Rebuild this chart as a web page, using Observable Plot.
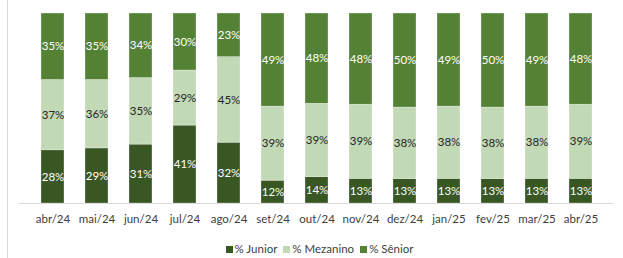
<!DOCTYPE html>
<html>
<head>
<meta charset="utf-8">
<script src="https://cdn.jsdelivr.net/npm/d3@7"></script>
<script src="https://cdn.jsdelivr.net/npm/@observablehq/plot@0.6"></script>
<style>
  html, body { margin: 0; padding: 0; background: #fff; }
  #wrap { position: relative; width: 623px; height: 258px; overflow: hidden; font-family: Lato, "Open Sans", sans-serif; }
  #edge { position: absolute; left: 7px; top: 0; width: 1px; height: 258px; background: #d9d9d9; }
  #legend { position: absolute; left: 0; top: 242px; width: 623px; text-align: center; font-size: 11.5px; color: #404040; padding-left: 16px; box-sizing: border-box; }
  #legend span.item { margin: 0 3px; white-space: nowrap; }
  #legend span.sw { display: inline-block; width: 7px; height: 7px; margin-right: 2px; vertical-align: 0px; }
</style>
</head>
<body>
<div id="wrap">
  <div id="chart"></div>
  <div id="edge"></div>
  <div id="legend"></div>
</div>
<script>
const months = ["abr/24","mai/24","jun/24","jul/24","ago/24","set/24","out/24","nov/24","dez/24","jan/25","fev/25","mar/25","abr/25"];
const seriesNames = ["% Junior", "% Mezanino", "% Sênior"];
const junior   = [28, 29, 31, 41, 32, 12, 14, 13, 13, 13, 13, 13, 13];
const mezanino = [37, 36, 35, 29, 45, 39, 39, 39, 38, 38, 38, 38, 39];
const senior   = [35, 35, 34, 30, 23, 49, 48, 48, 50, 49, 50, 49, 48];
const colors = ["#385723", "#c2d9b5", "#548235"];
const textColors = ["#ffffff", "#262626", "#ffffff"];

const seriesValues = [junior, mezanino, senior];
const data = [];
seriesNames.forEach((s, si) => {
  months.forEach((m, mi) => data.push({month: m, series: s, value: seriesValues[si][mi]}));
});

const chart = Plot.plot({
  width: 623,
  height: 236,
  marginTop: 13,
  marginBottom: 33,
  marginLeft: 19,
  marginRight: 10,
  style: {fontFamily: "Lato, 'Open Sans', sans-serif", fontSize: "11.5px", background: "#fff"},
  x: {domain: months, padding: 0.485, label: null, tickSize: 0, tickPadding: 11},
  y: {axis: null, domain: [0, 1]},
  color: {domain: seriesNames, range: colors},
  marks: [
    Plot.barY(data, Plot.stackY({offset: "normalize"}, {x: "month", y: "value", z: "series", fill: "series", stroke: "#ffffff", strokeWidth: 0.6, strokeOpacity: 0.5})),
    Plot.text(data, Plot.stackY({offset: "normalize"}, {
      x: "month", y: "value", z: "series",
      text: d => d.value + "%",
      fill: d => textColors[seriesNames.indexOf(d.series)],
      fontSize: 11.5
    })),
    Plot.ruleY([0], {stroke: "#d9d9d9", strokeWidth: 1}),
    Plot.axisX({tickSize: 0, tickPadding: 11, fill: "#404040", fontSize: 11.5, label: null})
  ]
});
document.getElementById("chart").appendChild(chart);

const legend = document.getElementById("legend");
seriesNames.forEach((s, i) => {
  const item = document.createElement("span");
  item.className = "item";
  const sw = document.createElement("span");
  sw.className = "sw";
  sw.style.background = colors[i];
  item.appendChild(sw);
  item.appendChild(document.createTextNode(s));
  legend.appendChild(item);
});
</script>
</body>
</html>
